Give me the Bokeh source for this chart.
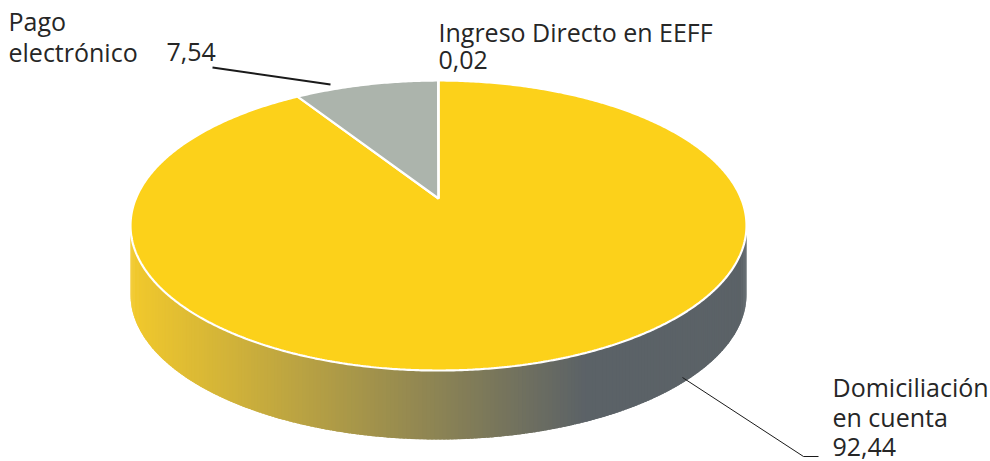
import math
from bokeh.plotting import figure
from bokeh.models import Range1d
from bokeh.core.properties import value
from bokeh.embed import file_html
from bokeh.resources import INLINE

# ---- data ----
categories = ["Domiciliación en cuenta", "Pago electrónico", "Ingreso Directo en EEFF"]
values = [92.44, 7.54, 0.02]
slice_colors = ["#FCD11A", "#ACB4AC", "#5B6267"]
label_lines = [["Domiciliación", "en cuenta"], ["Pago", "electrónico"], ["Ingreso Directo en EEFF"]]
value_labels = [f"{v:.2f}".replace(".", ",") for v in values]

# ---- layout (screen pixel geometry) ----
W, H = 990, 461
def sy(y):  # screen y -> data y
    return H - y
def sx(x):
    return x

CX, CY = 438, 225      # ellipse centre
RX, RY = 308, 145      # ellipse radii
APEX = (438, 198)      # projected pie centre (perspective)
DEPTH = 69
TEXT_SHIFT = 9         # renderer places alphabetic baseline lower

p = figure(width=W, height=H, x_range=Range1d(0, W), y_range=Range1d(0, H),
           output_backend="svg", toolbar_location=None, min_border=0)
p.axis.visible = False
p.grid.visible = False
p.outline_line_color = None
p.background_fill_color = "white"

def ept(t_deg):
    t = math.radians(t_deg)
    return CX + RX * math.cos(t), CY - RY * math.sin(t)

# ---- side (front) with horizontal gradient ----
c0 = (242, 201, 44)
c1 = (91, 98, 103)
gx0, gx1 = 130, 585
xs, ys, cols = [], [], []
N = 240
step = 180 / N
for i in range(N):
    t0 = 180 + step * i
    t1 = min(360, t0 + step * 1.8)
    xa, ya = ept(t0)
    xb, yb = ept(t1)
    xm, _ = ept(t0 + step / 2)
    f = min(1, max(0, (xm - gx0) / (gx1 - gx0)))
    col = tuple(int(round(c0[k] * (1 - f) + c1[k] * f)) for k in range(3))
    hexc = "#%02x%02x%02x" % col
    xs.append([sx(xa), sx(xb), sx(xb), sx(xa)])
    ys.append([sy(ya), sy(yb), sy(yb + DEPTH), sy(ya + DEPTH)])
    cols.append(hexc)
p.patches(xs, ys, fill_color=cols, line_color=None)

# ---- top face slices ----
total = sum(values)
start = 90.0  # degrees, clockwise from 12 o'clock
for v, col in zip(values, slice_colors):
    sweep = 360 * v / total
    end = start - sweep
    n = max(2, int(abs(sweep) * 2))
    px = [sx(APEX[0])]
    py = [sy(APEX[1])]
    for j in range(n + 1):
        t = start - sweep * j / n
        x, y = ept(t)
        px.append(sx(x))
        py.append(sy(y))
    p.patch(px, py, fill_color=col, line_color="white", line_width=2.2)
    start = end

# ---- leader lines ----
p.line([sx(212), sx(330)], [sy(67), sy(84)], line_color="#1a1a1a", line_width=2)
p.line([sx(682), sx(803), sx(818)], [sy(377), sy(456), sy(456)], line_color="#1a1a1a", line_width=1)

# ---- labels ----
FONT = value("Open Sans")
FS = "25px"
tx, ty, tt = [], [], []
def add(x, y, s):
    tx.append(sx(x)); ty.append(sy(y - TEXT_SHIFT)); tt.append(s)

add(832, 395, label_lines[0][0]); add(832, 425, label_lines[0][1]); add(832, 455, value_labels[0])
add(8, 29, label_lines[1][0]); add(8, 60, label_lines[1][1]); add(166, 60, value_labels[1])
add(438, 40, label_lines[2][0]); add(438, 68, value_labels[2])

p.text(tx, ty, text=tt, text_font=FONT, text_font_size=FS, text_color="#262626",
       text_baseline="alphabetic", text_align="left")

open("out.html", "w").write(file_html(p, INLINE))
